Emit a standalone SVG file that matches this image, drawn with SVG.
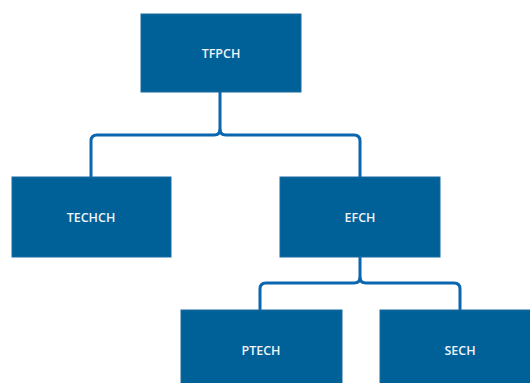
<svg xmlns="http://www.w3.org/2000/svg" width="530" height="383" viewBox="0 0 530 383">
<style>
.box{fill:#006199;stroke:#1a6aa3;stroke-width:1}
.lbl{fill:#eef4fa;font-family:"Open Sans","Noto Sans",sans-serif;font-size:12.5px;font-weight:600;text-anchor:middle;dominant-baseline:central}
.con{fill:none;stroke:#0b66b0;stroke-width:3;stroke-linecap:butt;stroke-linejoin:round}
</style>
<rect width="530" height="383" fill="#ffffff"/>
<g id="connectors">
<path class="con" d="M220,92 V129 Q220,135 214,135 H97 Q91,135 91,141 V177"/>
<path class="con" d="M220,129 Q220,135 226,135 H354 Q360,135 360,141 V177"/>
<path class="con" d="M360,257 V277 Q360,283 354,283 H266 Q260,283 260,289 V310"/>
<path class="con" d="M360,277 Q360,283 366,283 H454 Q460,283 460,289 V310"/>
</g>
<g id="TFPCH"><rect class="box" x="141" y="14" width="160" height="78"/><text class="lbl" x="221" y="53">TFPCH</text></g>
<g id="TECHCH"><rect class="box" x="12" y="177" width="159" height="80"/><text class="lbl" x="91" y="217">TECHCH</text></g>
<g id="EFCH"><rect class="box" x="280" y="177" width="160" height="80"/><text class="lbl" x="360" y="217">EFCH</text></g>
<g id="PTECH"><rect class="box" x="181" y="310" width="161" height="80"/><text class="lbl" x="261" y="350">PTECH</text></g>
<g id="SECH"><rect class="box" x="380" y="310" width="160" height="80"/><text class="lbl" x="460" y="350">SECH</text></g>
</svg>
